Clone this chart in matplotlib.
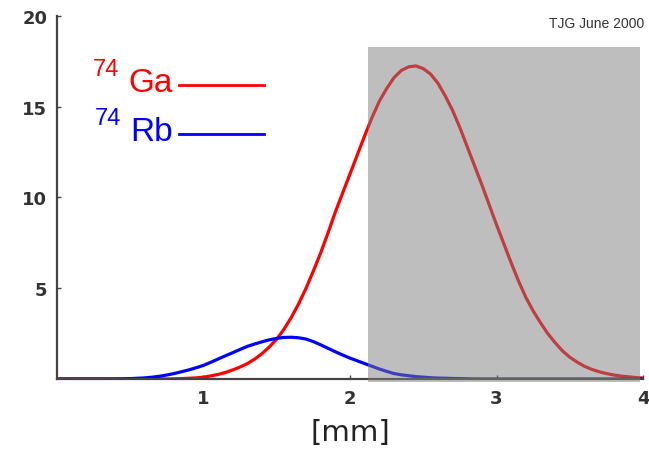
import matplotlib
matplotlib.use("Agg")
import matplotlib.pyplot as plt
from matplotlib.patches import Rectangle

# values, x in mm (0.05 mm steps)
X_MM = [0.00, 0.05, 0.10, 0.15, 0.20, 0.25, 0.30, 0.35, 0.40, 0.45,
        0.50, 0.55, 0.60, 0.65, 0.70, 0.75, 0.80, 0.85, 0.90, 0.95,
        1.00, 1.05, 1.10, 1.15, 1.20, 1.25, 1.30, 1.35, 1.40, 1.45,
        1.50, 1.55, 1.60, 1.65, 1.70, 1.75, 1.80, 1.85, 1.90, 1.95,
        2.00, 2.05, 2.10, 2.15, 2.20, 2.25, 2.30, 2.35, 2.40, 2.45,
        2.50, 2.55, 2.60, 2.65, 2.70, 2.75, 2.80, 2.85, 2.90, 2.95,
        3.00, 3.05, 3.10, 3.15, 3.20, 3.25, 3.30, 3.35, 3.40, 3.45,
        3.50, 3.55, 3.60, 3.65, 3.70, 3.75, 3.80, 3.85, 3.90, 3.95, 4.00]
GA74 = [0.0, 0.0, 0.0, 0.0, 0.0, 0.0, 0.0, 0.0, 0.0, 0.0,
        0.0, 0.0, 0.0, 0.0, 0.0, 0.0, 0.01, 0.02, 0.04, 0.06,
        0.10, 0.17, 0.25, 0.36, 0.50, 0.66, 0.85, 1.10, 1.40, 1.77,
        2.20, 2.75, 3.40, 4.15, 5.00, 5.95, 6.95, 8.05, 9.20, 10.25,
        11.3, 12.35, 13.4, 14.4, 15.3, 16.0, 16.6, 17.0, 17.2, 17.25,
        17.1, 16.8, 16.3, 15.6, 14.8, 13.85, 12.8, 11.75, 10.7, 9.6,
        8.5, 7.45, 6.4, 5.4, 4.5, 3.75, 3.1, 2.5, 2.0, 1.55,
        1.2, 0.93, 0.70, 0.53, 0.40, 0.30, 0.22, 0.16, 0.12, 0.08, 0.05]
RB74 = [0.0, 0.0, 0.0, 0.0, 0.0, 0.0, 0.0, 0.0, 0.0, 0.01,
        0.02, 0.04, 0.06, 0.10, 0.15, 0.22, 0.30, 0.40, 0.50, 0.62,
        0.75, 0.92, 1.10, 1.28, 1.45, 1.63, 1.80, 1.93, 2.05, 2.16,
        2.24, 2.29, 2.30, 2.27, 2.20, 2.06, 1.88, 1.69, 1.50, 1.32,
        1.15, 1.00, 0.85, 0.70, 0.55, 0.42, 0.30, 0.23, 0.18, 0.13,
        0.10, 0.07, 0.05, 0.04, 0.03, 0.02, 0.01, 0.0, 0.0, 0.0,
        0.0, 0.0, 0.0, 0.0, 0.0, 0.0, 0.0, 0.0, 0.0, 0.0,
        0.0, 0.0, 0.0, 0.0, 0.0, 0.0, 0.0, 0.0, 0.0, 0.0, 0.0]

# shaded window (mm, counts)
WIN_X = (2.12, 3.98)
WIN_Y = (-0.17, 18.27)

XTICKS = [1, 2, 3, 4]
YTICKS = [5, 10, 15, 20]

AXC = "#444444"
SANS = "Liberation Sans"

fig = plt.figure(figsize=(6.49, 4.56), dpi=100)
ax = fig.add_axes([0.0878, 0.1667, 0.903, 0.796])

ax.plot(X_MM, GA74, color="#ff0000", lw=2.3, zorder=2, solid_joinstyle="round")
ax.plot(X_MM, RB74, color="#0000ff", lw=2.3, zorder=2, solid_joinstyle="round")

ax.add_patch(Rectangle((WIN_X[0], WIN_Y[0]), WIN_X[1] - WIN_X[0], WIN_Y[1] - WIN_Y[0],
                       facecolor="#7f7f7f", alpha=0.5, lw=0, zorder=3, clip_on=False))

ax.set_xlim(0, 4)
ax.set_ylim(0, 20)
ax.set_xticks(XTICKS)
ax.set_yticks(YTICKS)
for s in ("top", "right"):
    ax.spines[s].set_visible(False)
for s in ("left", "bottom"):
    ax.spines[s].set_color(AXC)
    ax.spines[s].set_linewidth(1.6)
ax.tick_params(direction="in", length=3, width=1, color=AXC, labelcolor="#333333",
               labelsize=13, pad=7)
for lab in ax.get_xticklabels() + ax.get_yticklabels():
    lab.set_fontweight("bold")

ax.set_xlabel("[mm]", fontsize=21, color="#222222", labelpad=8)

# hand-made legend
ax.text(0.245, 16.75, "74", color="#ff0000", fontsize=17, family=SANS, va="baseline")
ax.text(0.485, 15.85, "Ga", color="#ff0000", fontsize=24, family=SANS, va="baseline")
ax.plot([0.83, 1.41], [16.2, 16.2], color="#ff0000", lw=2.0, zorder=2)
ax.text(0.26, 14.05, "74", color="#0000ff", fontsize=17, family=SANS, va="baseline")
ax.text(0.5, 13.15, "Rb", color="#0000ff", fontsize=24, family=SANS, va="baseline")
ax.plot([0.83, 1.41], [13.5, 13.5], color="#0000ff", lw=2.0, zorder=2)

fig.text(0.993, 0.947, "TJG June 2000", ha="right", va="center", fontsize=10,
         color="#333333", family=SANS)

fig.savefig("out.png", dpi=100)
